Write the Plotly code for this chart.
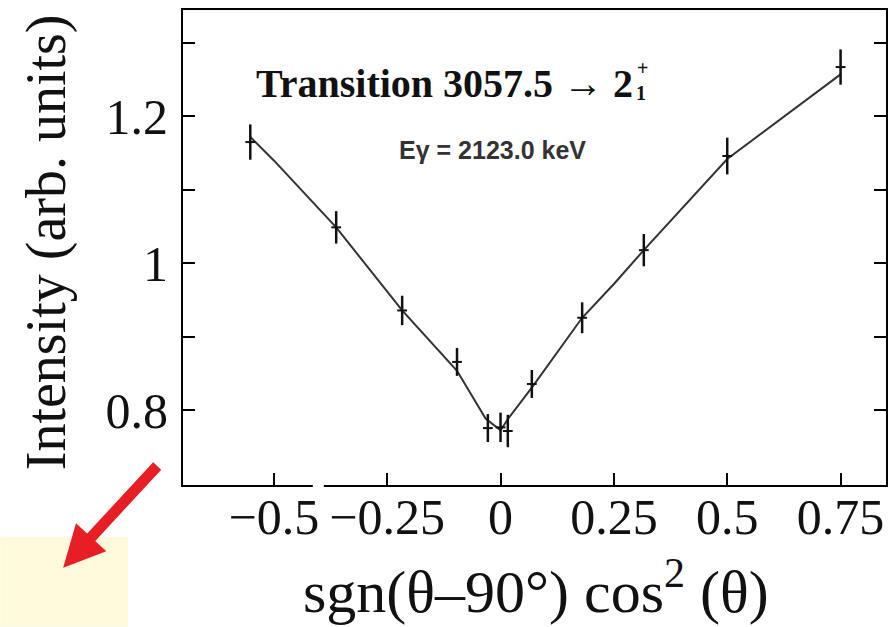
import plotly.graph_objects as go

# measured points: x = sgn(theta-90) cos^2(theta), y = intensity, with errors
x_data = [-0.552, -0.3625, -0.217, -0.096, -0.028, 0.0, 0.016, 0.069, 0.18, 0.316, 0.5, 0.75]
y_data = [1.165, 1.049, 0.936, 0.866, 0.776, 0.777, 0.772, 0.836, 0.926, 1.018, 1.146, 1.267]
y_err = [0.024, 0.022, 0.020, 0.019, 0.019, 0.020, 0.022, 0.019, 0.021, 0.022, 0.025, 0.024]

# fitted angular-distribution curve
x_fit = [-0.552, -0.5, -0.3625, -0.25, -0.217, -0.096, -0.033, 0.0, 0.016, 0.069, 0.18, 0.25, 0.316, 0.5, 0.75]
y_fit = [1.172, 1.140, 1.049, 0.961, 0.936, 0.854, 0.789, 0.773, 0.788, 0.831, 0.926, 0.972, 1.018, 1.142, 1.257]

x_ticks = [-0.5, -0.25, 0, 0.25, 0.5, 0.75]
x_ticktext = ["\u22120.5", "\u22120.25", "0", "0.25", "0.5", "0.75"]
y_ticks = [0.8, 1.0, 1.2]
y_ticktext = ["0.8", "1", "1.2"]
y_minor_ticks = [0.9, 1.1, 1.3]

SERIF = "Liberation Serif, Times New Roman, serif"
SANS = "Liberation Sans, Arial, sans-serif"

W, H = 896, 627
L, R, T, B = 183, 9, 8, 142
PW, PH = W - L - R, H - T - B


def px(xp):
    return (xp - L) / PW


def py(yp):
    return (H - B - yp) / PH


fig = go.Figure()
fig.add_trace(go.Scatter(
    x=x_fit, y=y_fit, mode="lines",
    line=dict(color="#333333", width=2), hoverinfo="skip", showlegend=False))
fig.add_trace(go.Scatter(
    x=x_data, y=y_data, mode="markers",
    marker=dict(symbol="line-ew", size=7, color="#111111",
                line=dict(color="#111111", width=2)),
    error_y=dict(type="data", array=y_err, visible=True, width=0,
                 thickness=2.5, color="#111111"),
    showlegend=False))

axis_common = dict(
    showline=True, linewidth=2, linecolor="black",
    ticks="inside", ticklen=12, tickwidth=2, tickcolor="black",
    showgrid=False, zeroline=False,
    tickfont=dict(family=SERIF, size=50, color="#111111"),
)

fig.update_layout(
    width=W, height=H,
    margin=dict(l=L, r=R, t=T, b=B, pad=0),
    paper_bgcolor="white", plot_bgcolor="white",
    xaxis=dict(range=[-0.7004, 0.8502], tickvals=x_ticks, ticktext=x_ticktext,
               mirror=True, ticklabelstandoff=-13, **axis_common),
    yaxis=dict(range=[0.6986, 1.3446], tickvals=y_ticks, ticktext=y_ticktext,
               mirror="ticks", ticklabelstandoff=3,
               minor=dict(tickvals=y_minor_ticks, ticks="inside", ticklen=12,
                          tickwidth=2, tickcolor="black", showgrid=False),
               **axis_common),
    showlegend=False,
)

annotations = [
    dict(text="<b>Transition 3057.5 \u2192 2</b>", xref="paper", yref="paper",
         x=px(254), y=py(82), xanchor="left", yanchor="middle", showarrow=False,
         font=dict(family=SERIF, size=40, color="#111111")),
    dict(text="<b>1</b>", xref="paper", yref="paper",
         x=px(642), y=py(91), xanchor="center", yanchor="middle", showarrow=False,
         font=dict(family=SERIF, size=20, color="#111111")),
    dict(text="<b>+</b>", xref="paper", yref="paper",
         x=px(643), y=py(66), xanchor="center", yanchor="middle", showarrow=False,
         font=dict(family=SERIF, size=20, color="#111111")),
    dict(text="<b>E\u03b3 = 2123.0 keV</b>", xref="paper", yref="paper",
         x=px(493), y=py(149), xanchor="center", yanchor="middle", showarrow=False,
         font=dict(family=SANS, size=25, color="#333333")),
    dict(text="Intensity (arb. units)", xref="paper", yref="paper",
         x=px(46), y=py(241), xanchor="center", yanchor="middle", textangle=-90,
         showarrow=False, font=dict(family=SERIF, size=56, color="#111111")),
    dict(text="sgn(\u03b8\u201390\u00b0) cos<sup>2</sup> (\u03b8)", xref="paper", yref="paper",
         x=px(537), y=py(588), xanchor="center", yanchor="middle",
         showarrow=False, font=dict(family=SERIF, size=60, color="#111111")),
    dict(text=" ", xref="paper", yref="paper", x=px(63), y=py(568),
         ax=97, ay=-105, axref="pixel", ayref="pixel", showarrow=True,
         arrowhead=2, arrowsize=0.75, arrowwidth=11, arrowcolor="#e81e25", standoff=0),
]
fig.update_layout(annotations=annotations)

fig.add_shape(type="rect", xref="paper", yref="paper",
              x0=px(0), x1=px(128), y0=py(627), y1=py(537),
              fillcolor="#fffadc", line=dict(width=0), layer="below")
# small gap in the x-axis line of the original scan
fig.add_shape(type="rect", xref="paper", yref="paper",
              x0=px(313), x1=px(324), y0=py(488), y1=py(482),
              fillcolor="white", line=dict(width=0), layer="above")

fig.write_html("out.html")
